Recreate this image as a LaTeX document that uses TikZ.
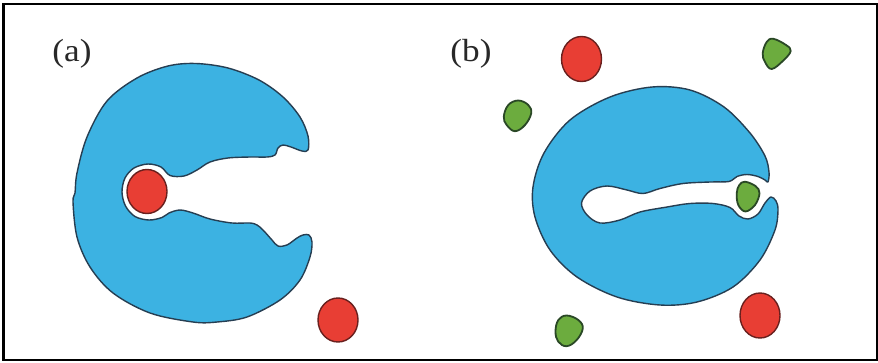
\documentclass[tikz,border=0pt]{standalone}
\usepackage{fontspec}
\setmainfont{Liberation Serif}
\begin{document}
\begin{tikzpicture}[x=1pt,y=-1pt,
  protein/.style={fill=protblue,draw=protedge,line width=1.4pt,line join=round},
  ligand/.style={fill=ligred,draw=ligedge,line width=1.4pt},
  inhib/.style={fill=inhgreen,draw=inhedge,line width=1.8pt,line join=round},
  panel/.style={inner sep=0pt,text=labelgray,font=\fontsize{32}{36}\selectfont,xscale=1.1}]
\definecolor{protblue}{RGB}{60,178,226}
\definecolor{protedge}{RGB}{38,62,82}
\definecolor{ligred}{RGB}{232,62,52}
\definecolor{ligedge}{RGB}{105,32,30}
\definecolor{inhgreen}{RGB}{108,172,62}
\definecolor{inhedge}{RGB}{42,72,38}
\definecolor{labelgray}{RGB}{40,40,40}
\useasboundingbox (0,0) rectangle (878,362);
\fill[white] (0,0) rectangle (878,362);

% frame
\draw[line width=2.6pt] (3.5,4) rectangle (877.5,360);

% panel labels
\node[panel] (la) at (72,54) {(a)};
\node[panel] (lb) at (471,54) {(b)};

% (a) open enzyme with bound substrate
\draw[protein] plot[smooth cycle,tension=0.55] coordinates {
  (308,150) (308,136) (300,117) (283,97) (259,80) (228,68) (196,63.5) (168,66)
  (137,78) (107,101) (87,137) (77,173) (75,193) (73,202) (77,237) (90,267)
  (113,293) (150,313) (193,322) (217,322) (247,317) (280,300) (300,280)
  (310,257) (312,242) (309,235)
  (303,235) (297,238) (287,245) (278,246) (272,240) (263,230) (257,225)
  (250,223) (232,223) (210,219) (193,213) (180,210) (169,213)
  (162,217.5) (149,220) (135,216.5) (125.5,206) (122,192) (125,178) (134,168)
  (148,164) (161,167) (170,175.5)
  (184,176) (197,170) (210,162) (228,158) (250,157) (267,157) (275,155)
  (278,148) (283,145) (291,147) (302,151)};
\draw[ligand] (147,191.5) ellipse [x radius=20, y radius=22];
\draw[ligand] (338,320) ellipse [x radius=20, y radius=22];

% (b) closed enzyme with bound inhibitor
\draw[protein] plot[smooth cycle,tension=0.55] coordinates {
  (768,182) (769,172) (765,156) (750,133) (724,107) (690,90) (652,87)
  (610,97) (570,120) (544,153) (533,187) (535,217) (550,250) (577,277)
  (617,297) (660,305) (697,302) (733,287) (760,260) (775,230) (778,210)
  (776,201) (771,197)
  (765,203) (758,214) (748,219) (739,216) (730,207.5) (713,203.5) (690,203.5)
  (667,207) (640,212) (620,220) (600,223) (587,215) (581.5,203)
  (590,191) (607,186) (627,190) (643,193.5) (660,188.5) (683,183.5)
  (710,182) (729,181.5) (737,176.5) (747,174.5) (758,176.5) (765,180)};
\draw[inhib] plot[smooth cycle,tension=0.6] coordinates {
  (745,181.7) (755.7,186.2) (759.5,193.3) (755,205) (745.5,211.5) (738.3,205)
  (736.7,193.3) (739.3,185)};

\draw[ligand] (581.5,59) ellipse [x radius=20, y radius=22.5];
\draw[ligand] (760,315.5) ellipse [x radius=20, y radius=22.5];

\draw[inhib] plot[smooth cycle,tension=0.65] coordinates {
  (773.3,38.8) (786,45) (790.7,51) (783.3,60.5) (771.7,69) (765,62)
  (762.7,53.3) (766.7,42)};
\draw[inhib] plot[smooth cycle,tension=0.65] coordinates {
  (518.3,100.5) (528.3,105) (531.2,113.3) (525,125) (515,131.2) (506.7,125)
  (503.8,116.7) (508.3,105)};
\draw[inhib] plot[smooth cycle,tension=0.65] coordinates {
  (566.7,315.5) (578.3,320) (582.8,328.3) (576.7,340) (566.7,346.2) (558.3,341.7)
  (555.5,331.7) (558.3,320)};
\end{tikzpicture}
\end{document}
